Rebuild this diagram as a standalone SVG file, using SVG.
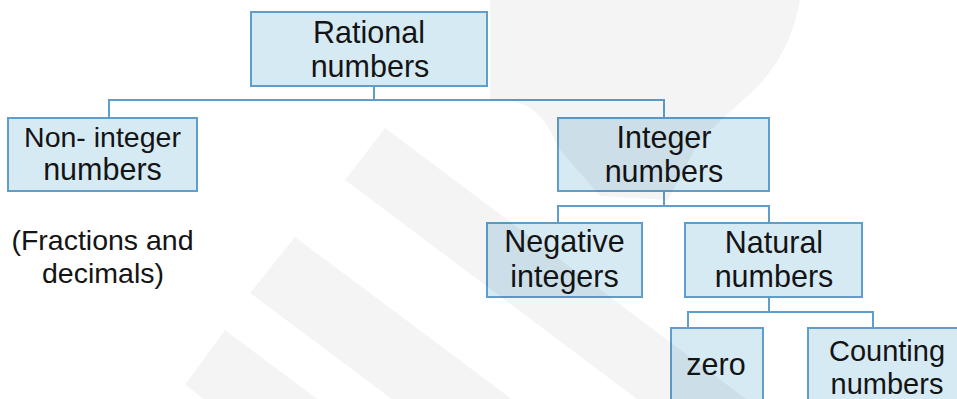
<svg xmlns="http://www.w3.org/2000/svg" width="957" height="399" viewBox="0 0 957 399">
  <style>
    .box { fill: #d6eaf4; stroke: #5f9ecb; stroke-width: 2; }
    .lbl { font-family: "Liberation Sans", Arial, sans-serif; font-size: 30.5px; fill: #141414; text-anchor: middle; }
    .wire { stroke: #5f9ecb; stroke-width: 2; fill: none; stroke-linecap: square; }
    .mark { fill: #000; opacity: 0.045; }
  </style>
  <rect width="957" height="399" fill="#ffffff"/>

  <!-- connectors of the tree -->
  <g id="connectors">
    <path class="wire" d="M374 86 V100 M109 100 H664 M109 100 V118 M664 100 V118"/>
    <path class="wire" d="M664 191 V206 M558 206 H769 M558 206 V223 M769 206 V223"/>
    <path class="wire" d="M769 297 V312 M688 312 H873 M688 312 V328 M873 312 V328"/>
  </g>

  <g id="rational">
    <rect class="box" x="251" y="12" width="236" height="74"/>
    <text class="lbl" x="369" y="43">Rational</text>
    <text class="lbl" x="370" y="77">numbers</text>
  </g>

  <g id="non-integer">
    <rect class="box" x="8" y="118" width="189" height="73"/>
    <text class="lbl" x="102.5" y="147" style="font-size:28.5px">Non- integer</text>
    <text class="lbl" x="102.5" y="180">numbers</text>
  </g>

  <g id="fractions-note">
    <text class="lbl" x="102.5" y="250" style="font-size:28.5px">(Fractions and</text>
    <text class="lbl" x="103" y="283" style="font-size:28.5px">decimals)</text>
  </g>

  <g id="integer">
    <rect class="box" x="558" y="118" width="211" height="73"/>
    <text class="lbl" x="664" y="148">Integer</text>
    <text class="lbl" x="664" y="182">numbers</text>
  </g>

  <g id="negative">
    <rect class="box" x="487" y="223" width="155" height="74"/>
    <text class="lbl" x="564.5" y="252">Negative</text>
    <text class="lbl" x="564.5" y="287">integers</text>
  </g>

  <g id="natural">
    <rect class="box" x="685" y="223" width="177" height="74"/>
    <text class="lbl" x="774" y="253">Natural</text>
    <text class="lbl" x="774" y="287">numbers</text>
  </g>

  <g id="zero">
    <rect class="box" x="671" y="328" width="92" height="80"/>
    <text class="lbl" x="716" y="375">zero</text>
  </g>

  <g id="counting">
    <rect class="box" x="808" y="328" width="160" height="80"/>
    <text class="lbl" x="887" y="361" style="font-size:29px">Counting</text>
    <text class="lbl" x="887" y="394" style="font-size:29px">numbers</text>
  </g>

  <!-- faint diagonal background logo laid over everything -->
  <g id="watermark">
    <path class="mark" d="M490 0 H800 C792 45 772 75 745 98 L700 140 L668 200 L600 196 L560 150 C545 118 535 104 505 100 L490 100 Z"/>
    <path class="mark" d="M345 180 L385 128 L790 432 L750 484 Z"/>
    <path class="mark" d="M250 293 L295 237 L700 540 L655 596 Z"/>
    <path class="mark" d="M185 385 L225 330 L320 401 L280 456 Z"/>
  </g>
</svg>
